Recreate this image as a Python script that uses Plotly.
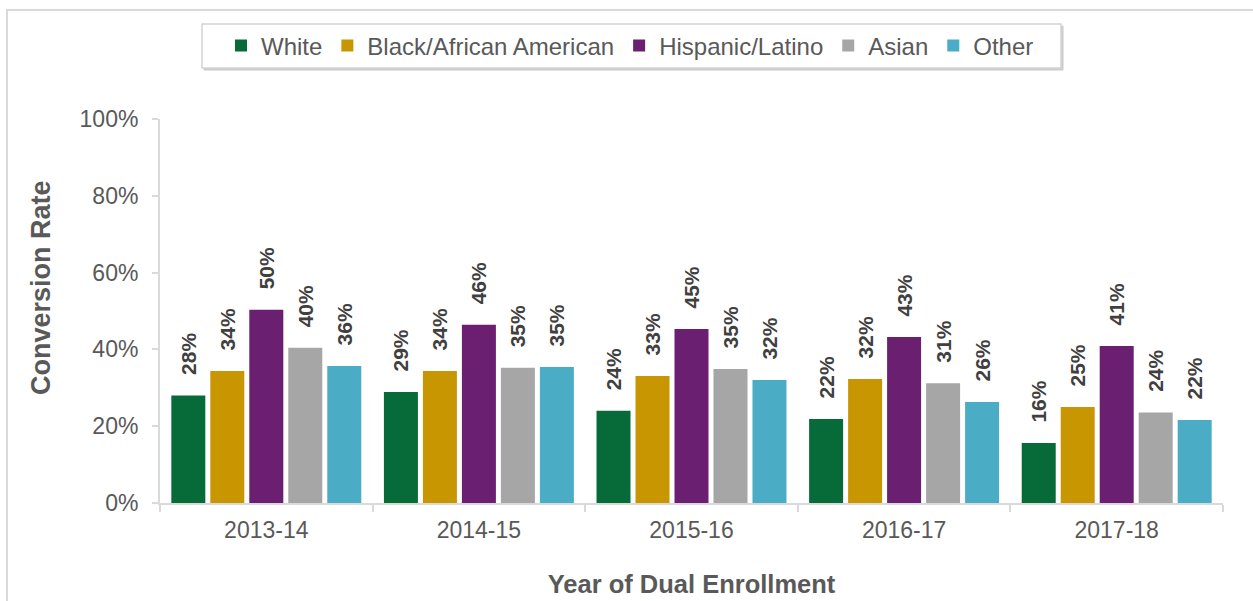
import plotly.graph_objects as go

years = ["2013-14", "2014-15", "2015-16", "2016-17", "2017-18"]
series_names = ["White", "Black/African American", "Hispanic/Latino", "Asian", "Other"]
white = [28.0, 28.9, 24.0, 21.9, 15.6]
black = [34.4, 34.4, 33.1, 32.3, 25.0]
hispanic = [50.3, 46.4, 45.3, 43.2, 40.9]
asian = [40.4, 35.2, 34.9, 31.2, 23.6]
other = [35.7, 35.4, 32.0, 26.3, 21.6]
series_values = [white, black, hispanic, asian, other]
colors = ["#066b38", "#c89600", "#6a1f70", "#a6a6a6", "#4bacc6"]

FONT = "Arial, Liberation Sans, sans-serif"
W, H = 1253, 601
L, R, T, B = 160, 30, 119, 98
pw = W - L - R
ph = H - T - B

def px_x(px):
    return (px - L) / pw

def px_y(py):
    return (H - B - py) / ph

fig = go.Figure()
for name, vals, col in zip(series_names, series_values, colors):
    fig.add_trace(go.Bar(
        x=years, y=vals, name=name,
        marker=dict(color=col, line=dict(width=0)),
        texttemplate="\u00a0\u00a0\u00a0%{y:.0f}%",
        textposition="outside", textangle=-90,
        textfont=dict(family=FONT, size=21, color="#404040", weight="bold"),
        constraintext="none", cliponaxis=False,
    ))

shapes = [
    # outer frame
    dict(type="rect", xref="paper", yref="paper",
         x0=px_x(7), x1=px_x(1262), y0=px_y(612), y1=px_y(10),
         line=dict(color="#d9d9d9", width=2), fillcolor="rgba(0,0,0,0)", layer="below"),
    # legend shadow
    dict(type="rect", xref="paper", yref="paper",
         x0=px_x(204), x1=px_x(1063), y0=px_y(70), y1=px_y(26),
         line=dict(color="#cccccc", width=1), fillcolor="#cccccc", layer="above"),
    # legend box
    dict(type="rect", xref="paper", yref="paper",
         x0=px_x(202), x1=px_x(1061), y0=px_y(68), y1=px_y(24),
         line=dict(color="#d4d4d4", width=1.5), fillcolor="white", layer="above"),
]

annotations = [
    dict(text="<b>Conversion Rate</b>", xref="paper", yref="paper",
         x=px_x(41), y=px_y(288), xanchor="center", yanchor="middle",
         textangle=-90, showarrow=False,
         font=dict(family=FONT, size=27, color="#595959")),
]

fig.update_layout(
    width=W, height=H,
    margin=dict(l=L, r=R, t=T, b=B, autoexpand=False),
    paper_bgcolor="white", plot_bgcolor="white",
    barmode="group", bargap=0.083, bargroupgap=0.128,
    font=dict(family=FONT, color="#595959"),
    showlegend=True,
    legend=dict(orientation="h", x=px_x(221), xanchor="left",
                y=px_y(46), yanchor="middle",
                font=dict(family=FONT, size=24, color="#595959"),
                bgcolor="rgba(0,0,0,0)", borderwidth=0, traceorder="normal"),
    shapes=shapes,
    annotations=annotations,
    xaxis=dict(
        showline=True, linecolor="#d9d9d9", linewidth=2,
        ticks="outside", tickson="boundaries", ticklen=7, tickcolor="#d9d9d9", tickwidth=2,
        ticklabelstandoff=5,
        tickfont=dict(family=FONT, size=23, color="#595959"),
        title=dict(text="Year of Dual Enrollment", standoff=34,
                   font=dict(family=FONT, size=25.5, color="#595959", weight="bold")),
        showgrid=False, automargin=False,
    ),
    yaxis=dict(
        range=[0, 100], dtick=20, ticksuffix="%",
        showline=True, linecolor="#d9d9d9", linewidth=2,
        ticks="outside", ticklen=6, tickcolor="#d9d9d9", tickwidth=2,
        ticklabelstandoff=9,
        tickfont=dict(family=FONT, size=23, color="#595959"),
        showgrid=False, zeroline=False, automargin=False,
    ),
)

fig.write_html("out.html",
               config={"displayModeBar": False},
               post_script="document.body.style.margin='0';document.body.style.overflow='hidden';")
